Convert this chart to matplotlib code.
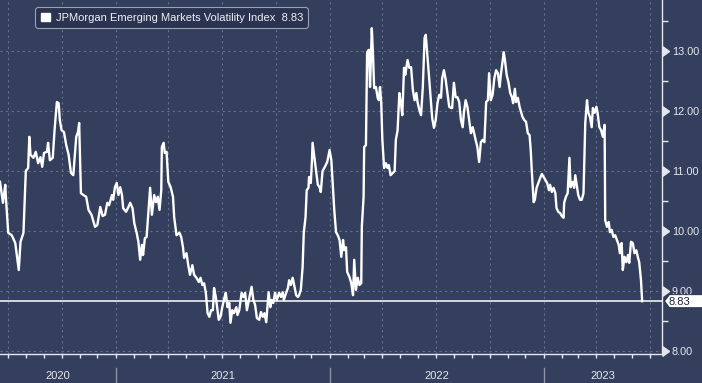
import numpy as np
import pandas as pd
import matplotlib
matplotlib.use("Agg")
import matplotlib.pyplot as plt
import matplotlib.dates as mdates
import matplotlib.transforms as mtransforms
from matplotlib.patches import Patch, Polygon
from matplotlib.ticker import FixedLocator, NullFormatter

plt.rcParams['font.family'] = ['Liberation Sans', 'DejaVu Sans']

series_name = "JPMorgan Emerging Markets Volatility Index"

dates = [
    "2020-06-18", "2020-06-23", "2020-06-27", "2020-06-28", "2020-07-02", "2020-07-08", "2020-07-14", "2020-07-20",
    "2020-07-23", "2020-07-28", "2020-08-01", "2020-08-05", "2020-08-07", "2020-08-09", "2020-08-14", "2020-08-18",
    "2020-08-22", "2020-08-26", "2020-08-29", "2020-09-01", "2020-09-06", "2020-09-08", "2020-09-11", "2020-09-16",
    "2020-09-19", "2020-09-23", "2020-09-26", "2020-09-28", "2020-10-01", "2020-10-05", "2020-10-09", "2020-10-13",
    "2020-10-17", "2020-10-21", "2020-10-26", "2020-10-29", "2020-10-31", "2020-11-03", "2020-11-07", "2020-11-12",
    "2020-11-16", "2020-11-21", "2020-11-27", "2020-12-01", "2020-12-06", "2020-12-10", "2020-12-14", "2020-12-18",
    "2020-12-21", "2020-12-26", "2020-12-28", "2020-12-31",
    "2021-01-03", "2021-01-06", "2021-01-09", "2021-01-12", "2021-01-14", "2021-01-19", "2021-01-23", "2021-01-26",
    "2021-01-30", "2021-02-02", "2021-02-06", "2021-02-09", "2021-02-12", "2021-02-15", "2021-02-17", "2021-02-20",
    "2021-02-23", "2021-02-26", "2021-03-01", "2021-03-04", "2021-03-08", "2021-03-11", "2021-03-14", "2021-03-17",
    "2021-03-20", "2021-03-21", "2021-03-24", "2021-03-26", "2021-03-29", "2021-04-01", "2021-04-05", "2021-04-09",
    "2021-04-11", "2021-04-15", "2021-04-20", "2021-04-23", "2021-04-26", "2021-04-28", "2021-05-02", "2021-05-05",
    "2021-05-08", "2021-05-12", "2021-05-15", "2021-05-19", "2021-05-23", "2021-05-26", "2021-05-29", "2021-06-01",
    "2021-06-04", "2021-06-07", "2021-06-10", "2021-06-13", "2021-06-16", "2021-06-18", "2021-06-21", "2021-06-24",
    "2021-06-26", "2021-06-29", "2021-07-02", "2021-07-06", "2021-07-08", "2021-07-11", "2021-07-14", "2021-07-16",
    "2021-07-19", "2021-07-22", "2021-07-26", "2021-07-28", "2021-07-31", "2021-08-04", "2021-08-07", "2021-08-10",
    "2021-08-13", "2021-08-17", "2021-08-21", "2021-08-24", "2021-08-27", "2021-08-30", "2021-09-03", "2021-09-06",
    "2021-09-09", "2021-09-12", "2021-09-15", "2021-09-19", "2021-09-22", "2021-09-24", "2021-09-27", "2021-09-30",
    "2021-10-03", "2021-10-07", "2021-10-10", "2021-10-13", "2021-10-15", "2021-10-19", "2021-10-22", "2021-10-24",
    "2021-10-27", "2021-10-30", "2021-11-01", "2021-11-05", "2021-11-08", "2021-11-10", "2021-11-13", "2021-11-16",
    "2021-11-18", "2021-11-21", "2021-11-23", "2021-11-26", "2021-11-27", "2021-11-30", "2021-12-02", "2021-12-03",
    "2021-12-06", "2021-12-09", "2021-12-12", "2021-12-15", "2021-12-17", "2021-12-20", "2021-12-23", "2021-12-28",
    "2022-01-01", "2022-01-04", "2022-01-06", "2022-01-09", "2022-01-12", "2022-01-15", "2022-01-18", "2022-01-21",
    "2022-01-24", "2022-01-26", "2022-01-29", "2022-01-31", "2022-02-04", "2022-02-07", "2022-02-10", "2022-02-12",
    "2022-02-15", "2022-02-18", "2022-02-21", "2022-02-24", "2022-02-25", "2022-02-28", "2022-03-01", "2022-03-04",
    "2022-03-06", "2022-03-09", "2022-03-11", "2022-03-14", "2022-03-16", "2022-03-18", "2022-03-21", "2022-03-24",
    "2022-03-26", "2022-03-28", "2022-03-30", "2022-04-01", "2022-04-04", "2022-04-07", "2022-04-10", "2022-04-12",
    "2022-04-15", "2022-04-19", "2022-04-22", "2022-04-24", "2022-04-27", "2022-04-30", "2022-05-03", "2022-05-05",
    "2022-05-08", "2022-05-10", "2022-05-14", "2022-05-17", "2022-05-20", "2022-05-23", "2022-05-26", "2022-05-29",
    "2022-05-31", "2022-06-03", "2022-06-06", "2022-06-09", "2022-06-12", "2022-06-14", "2022-06-17", "2022-06-20",
    "2022-06-23", "2022-06-25", "2022-06-28", "2022-07-01", "2022-07-04", "2022-07-07", "2022-07-10", "2022-07-12",
    "2022-07-15", "2022-07-18", "2022-07-21", "2022-07-24", "2022-07-27", "2022-07-29", "2022-08-01", "2022-08-04",
    "2022-08-07", "2022-08-10", "2022-08-13", "2022-08-16", "2022-08-18", "2022-08-21", "2022-08-24", "2022-08-27",
    "2022-08-30", "2022-09-02", "2022-09-04", "2022-09-07", "2022-09-10", "2022-09-13", "2022-09-16", "2022-09-19",
    "2022-09-22", "2022-09-25", "2022-09-28", "2022-09-30", "2022-10-03", "2022-10-06", "2022-10-09", "2022-10-12",
    "2022-10-15", "2022-10-18", "2022-10-20", "2022-10-23", "2022-10-25", "2022-10-27", "2022-10-30", "2022-11-02",
    "2022-11-05", "2022-11-08", "2022-11-10", "2022-11-13", "2022-11-15", "2022-11-18", "2022-11-21", "2022-11-24",
    "2022-11-26", "2022-11-29", "2022-12-02", "2022-12-05", "2022-12-08", "2022-12-10", "2022-12-12", "2022-12-15",
    "2022-12-17", "2022-12-20", "2022-12-23", "2022-12-26", "2022-12-29",
    "2023-01-01", "2023-01-04", "2023-01-07", "2023-01-10", "2023-01-12", "2023-01-15", "2023-01-18", "2023-01-21",
    "2023-01-23", "2023-01-26", "2023-01-29", "2023-02-01", "2023-02-04", "2023-02-05", "2023-02-08", "2023-02-11",
    "2023-02-14", "2023-02-16", "2023-02-19", "2023-02-22", "2023-02-24", "2023-02-27", "2023-03-01", "2023-03-04",
    "2023-03-07", "2023-03-10", "2023-03-13", "2023-03-16", "2023-03-18", "2023-03-21", "2023-03-24", "2023-03-26",
    "2023-03-29", "2023-04-01", "2023-04-03", "2023-04-06", "2023-04-09", "2023-04-12", "2023-04-15", "2023-04-16",
    "2023-04-19", "2023-04-22", "2023-04-24", "2023-04-27", "2023-04-30", "2023-05-03", "2023-05-06", "2023-05-09",
    "2023-05-11", "2023-05-14", "2023-05-16", "2023-05-19", "2023-05-22", "2023-05-25", "2023-05-27", "2023-05-30",
    "2023-06-02", "2023-06-05", "2023-06-08", "2023-06-11", "2023-06-13", "2023-06-16", "2023-06-18",
]

values = [
    10.82, 10.47, 10.77, 10.57, 9.97, 9.93, 9.80, 9.35,
    9.82, 9.97, 11.00, 11.05, 11.57, 11.27, 11.22, 11.32,
    11.13, 11.23, 11.07, 11.30, 11.32, 11.47, 11.18, 11.22,
    11.68, 12.15, 12.13, 11.85, 11.68, 11.65, 11.43, 11.27,
    10.97, 10.93, 11.57, 11.65, 11.80, 10.63, 10.60, 10.57,
    10.35, 10.27, 10.07, 10.10, 10.40, 10.25, 10.27, 10.47,
    10.43, 10.60, 10.52, 10.73,
    10.80, 10.60, 10.73, 10.60, 10.38, 10.32, 10.40, 10.47,
    10.38, 10.13, 9.97, 9.82, 9.52, 9.77, 9.60, 9.88,
    9.90, 10.30, 10.72, 10.27, 10.60, 10.48, 10.57, 10.35,
    10.68, 11.40, 11.47, 11.30, 11.32, 10.82, 10.73, 10.57,
    10.23, 9.93, 9.97, 9.90, 9.73, 9.55, 9.63, 9.43,
    9.27, 9.43, 9.27, 9.22, 9.15, 9.22, 9.10, 9.13,
    8.97, 8.63, 8.57, 8.68, 8.68, 9.05, 8.90, 8.68,
    8.52, 8.57, 8.73, 8.90, 8.97, 8.73, 8.80, 8.47,
    8.68, 8.63, 8.73, 8.60, 8.68, 8.97, 8.90, 8.97,
    8.68, 8.88, 9.07, 8.85, 8.77, 8.55, 8.52, 8.65,
    8.57, 8.63, 8.48, 8.98, 8.73, 8.85, 8.80, 8.97,
    8.85, 8.97, 8.90, 8.98, 8.85, 8.97, 9.05, 9.18,
    9.10, 9.22, 9.13, 8.93, 8.90, 8.93, 9.02, 9.40,
    9.97, 10.23, 10.68, 10.72, 10.90, 10.80, 11.18, 11.47,
    11.23, 11.00, 10.77, 10.73, 10.65, 11.00, 11.05, 11.15,
    11.35, 11.18, 10.85, 10.35, 9.98, 9.93, 9.85, 9.57,
    9.85, 9.68, 9.73, 9.32, 9.23, 9.13, 8.93, 9.52,
    9.02, 9.22, 9.10, 9.13, 10.07, 10.57, 11.40, 11.43,
    12.98, 13.02, 12.40, 13.38, 12.95, 12.38, 12.40, 12.22,
    12.18, 12.40, 12.15, 11.52, 11.05, 11.13, 11.05, 11.10,
    10.93, 10.97, 11.00, 11.52, 11.68, 12.30, 12.10, 11.93,
    12.72, 12.60, 12.85, 12.72, 12.73, 12.35, 12.18, 12.30,
    12.15, 12.02, 11.93, 12.40, 13.22, 13.27, 12.90, 12.52,
    12.13, 11.88, 11.72, 11.85, 12.13, 12.27, 12.22, 12.55,
    12.68, 12.52, 12.30, 12.07, 12.05, 12.05, 12.47, 12.23,
    12.23, 12.15, 11.85, 11.73, 11.97, 12.18, 12.07, 11.85,
    11.63, 11.73, 11.65, 11.52, 11.40, 11.15, 11.48, 11.52,
    11.48, 12.15, 12.18, 12.63, 12.18, 12.27, 12.55, 12.68,
    12.63, 12.40, 12.60, 12.82, 12.98, 12.85, 12.60, 12.48,
    12.30, 12.23, 12.13, 12.37, 12.15, 12.22, 12.07, 11.97,
    11.90, 11.85, 11.82, 11.63, 11.60, 11.35, 10.97, 10.48,
    10.52, 10.72, 10.80, 10.88, 10.95,
    10.90, 10.85, 10.80, 10.68, 10.77, 10.65, 10.72, 10.63,
    10.38, 10.32, 10.30, 10.25, 10.22, 10.47, 10.57, 10.63,
    11.22, 10.73, 10.82, 10.72, 10.93, 10.73, 10.60, 10.52,
    10.52, 10.63, 11.80, 12.18, 11.98, 11.90, 11.73, 12.05,
    11.97, 12.07, 11.97, 11.73, 11.68, 11.57, 11.77, 10.18,
    10.07, 10.15, 9.98, 10.02, 9.90, 9.93, 9.85, 9.77,
    9.63, 9.80, 9.35, 9.57, 9.48, 9.60, 9.47, 9.82,
    9.80, 9.63, 9.68, 9.55, 9.48, 9.18, 8.83,
]

y_ticks = [8, 9, 10, 11, 12, 13]
y_tick_labels = ["8.00", "9.00", "10.00", "11.00", "12.00", "13.00"]
year_starts = ["2021-01-01", "2022-01-01", "2023-01-01"]
year_labels = ["2020", "2021", "2022", "2023"]
x_start, x_end = "2020-06-18", "2023-07-21"

# ---- styling ----
BG = "#333F5C"
GRID = "#65708C"
AXC = "#E4E7EE"
TXT = "#E6E8EE"

W, H = 702, 383
fig = plt.figure(figsize=(W / 100, H / 100), dpi=100)
fig.patch.set_facecolor(BG)
ax_right_px, ax_bottom_px = 661.5, 354
ax = fig.add_axes([0, 1 - ax_bottom_px / H, ax_right_px / W, ax_bottom_px / H])
ax.set_facecolor(BG)

x = pd.to_datetime(dates)
last_val = values[-1]

ax.plot(x, values, color="white", lw=1.7, solid_joinstyle="round", zorder=3)
ax.axhline(last_val, color="white", lw=1.1, zorder=2)

ax.set_xlim(pd.Timestamp(x_start), pd.Timestamp(x_end))
ax.set_ylim(7.95, 13.85)

for s in ["left", "top"]:
    ax.spines[s].set_visible(False)
for s in ["right", "bottom"]:
    ax.spines[s].set_color(AXC)
    ax.spines[s].set_linewidth(1.0)

# x axis: quarterly grid, monthly ticks
ax.xaxis.set_major_locator(mdates.MonthLocator(bymonth=[1, 4, 7, 10]))
ax.xaxis.set_minor_locator(mdates.MonthLocator())
ax.xaxis.set_major_formatter(NullFormatter())
ax.tick_params(axis="x", which="both", direction="out", length=3, width=1, color=AXC)

# y axis on right
ax.yaxis.tick_right()
ax.yaxis.set_major_locator(FixedLocator(y_ticks))
ax.set_yticklabels(y_tick_labels)
ax.yaxis.set_minor_locator(FixedLocator([v + 0.5 for v in y_ticks]))
ax.tick_params(axis="y", which="major", length=0, pad=7.5, labelsize=7.8, labelcolor=TXT)
ax.tick_params(axis="y", which="minor", length=4, width=1, color=AXC, right=True, left=False)

ax.grid(True, which="major", axis="both", color=GRID, linestyle=(0, (2, 3)), linewidth=0.8)
ax.set_axisbelow(True)

# triangle markers at major y ticks
blend_y = mtransforms.blended_transform_factory(ax.transAxes, ax.transData)
ax.plot(np.ones(len(y_ticks)), y_ticks, transform=blend_y, ls="none",
        marker=9, ms=7, color=AXC, clip_on=False, zorder=4)

# year separators and year labels below axis
blend_x = mtransforms.blended_transform_factory(ax.transData, ax.transAxes)
ys = [pd.Timestamp(d) for d in year_starts]
for d in ys:
    ax.plot([d, d], [-14 / 354, -40 / 354], transform=blend_x, color="#8C93A6",
            lw=1.0, clip_on=False)
bounds = [pd.Timestamp(x_start)] + ys + [pd.Timestamp(x_end)]
for lab, a, b in zip(year_labels, bounds[:-1], bounds[1:]):
    mid = a + (b - a) / 2
    ax.text(mid, -22 / 354, lab, transform=blend_x, ha="center", va="center",
            fontsize=8, color=TXT)

# legend
handle = Patch(facecolor="white", edgecolor="white")
leg = ax.legend([handle], [f"{series_name}  {last_val:.2f}"], loc="upper left",
                bbox_to_anchor=(35 / ax_right_px, 1 - 7 / 354), borderaxespad=0,
                fontsize=8, handlelength=0.85, handleheight=0.85, handletextpad=0.5,
                borderpad=0.5, fancybox=True, framealpha=1, labelcolor="#EEF0F4")
frame = leg.get_frame()
frame.set_facecolor("#2A3450")
frame.set_edgecolor("#9AA1B2")
frame.set_linewidth(0.8)
frame.set_boxstyle("round,pad=0,rounding_size=0.3")

# last-value tag
xr = ax.transAxes.transform((1, 0))[0]
yv = ax.transData.transform((0, last_val))[1]
pts = [(xr + 3, yv), (xr + 8, yv + 6.5), (W + 2, yv + 6.5), (W + 2, yv - 6.5), (xr + 8, yv - 6.5)]
tag = Polygon(pts, closed=True, facecolor="white", edgecolor="#1E2536", lw=0.6,
              transform=mtransforms.IdentityTransform(), zorder=5)
fig.add_artist(tag)
fig.text((xr + 7) / W, (yv - 1) / H, f"{last_val:.2f}", ha="left", va="center",
         fontsize=8, color="#1E2536", zorder=6)

fig.savefig("out.png", dpi=100, facecolor=BG)
